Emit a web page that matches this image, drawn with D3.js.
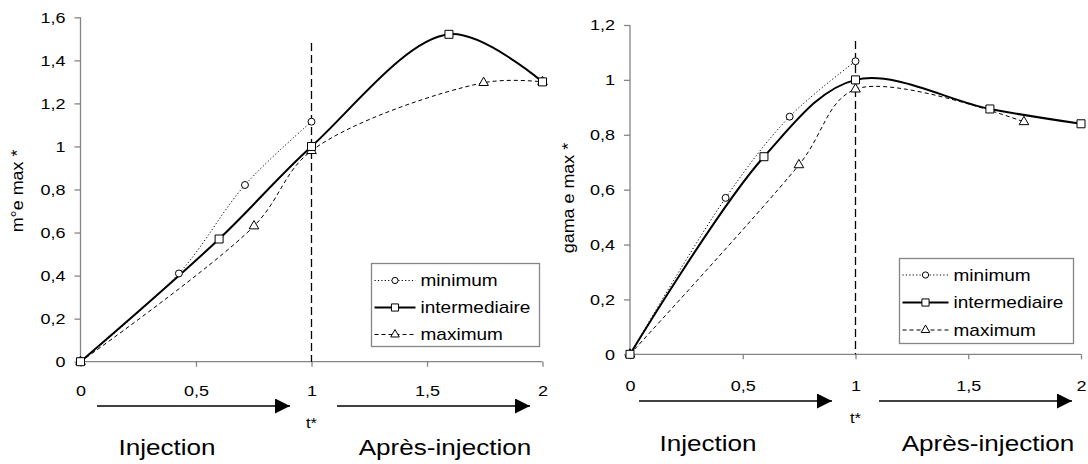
<!DOCTYPE html>
<html><head><meta charset="utf-8">
<script src="https://cdn.jsdelivr.net/npm/d3@7"></script>
<style>
html,body{margin:0;padding:0;background:#fff;}
svg{display:block;font-family:"Liberation Sans",Arial,sans-serif;}
</style></head>
<body>
<svg id="c" width="1088" height="464"></svg>
<script>
// ---- data ----
const seriesNames = ["minimum", "intermediaire", "maximum"];
const xTicks = [0, 0.5, 1, 1.5, 2];
const yTicksLeft = [0, 0.2, 0.4, 0.6, 0.8, 1, 1.2, 1.4, 1.6];
const yTicksRight = [0, 0.2, 0.4, 0.6, 0.8, 1, 1.2];

// left chart (m°e max *)
const tMinL = [0, 0.426, 0.712, 1];
const yMinL = [0, 0.41, 0.821, 1.115];
const tIntL = [0, 0.6, 1, 1.595, 2];
const yIntL = [0, 0.57, 1, 1.521, 1.30];
const tMaxL = [0, 0.751, 1, 1.745, 2];
const yMaxL = [0, 0.63, 0.98, 1.296, 1.30];

// right chart (gama e max *)
const tMinR = [0, 0.424, 0.708, 1];
const yMinR = [0, 0.57, 0.866, 1.068];
const tIntR = [0, 0.594, 1, 1.596, 2];
const yIntR = [0, 0.72, 1.0, 0.894, 0.84];
const tMaxR = [0, 0.749, 1, 1.747];
const yMaxR = [0, 0.69, 0.966, 0.847];

const yLabels = ["m°e max *", "gama e max *"];
const phaseLabels = ["Injection", "Après-injection"];
const tLabel = "t*";

// ---- drawing ----
const loc = d3.formatLocale({decimal: ",", thousands: " ", grouping: [3], currency: ["", "€"]});
const fmt = loc.format("~g");
const svg = d3.select("#c");
const axisColor = "#858585";

svg.append("defs").append("marker")
  .attr("id", "arr").attr("viewBox", "0 0 10 10").attr("refX", 10).attr("refY", 5)
  .attr("markerWidth", 18).attr("markerHeight", 15).attr("markerUnits", "userSpaceOnUse")
  .attr("orient", "auto")
  .append("path").attr("d", "M0,0 L10,5 L0,10 Z").attr("fill", "#000");

const styles = {
  minimum: {dash: "1.2,2.2", width: 1, sym: d3.symbolCircle, size: 38},
  intermediaire: {dash: null, width: 2, sym: d3.symbolSquare, size: 64},
  maximum: {dash: "4,3", width: 1, sym: d3.symbolTriangle, size: 40}
};

function zip(t, v) { return t.map((d, i) => ({x: d, y: v[i]})); }

// text with horizontal stretch (the reference glyphs are wider than Arial)
function addText(g, x, y, str, size, sx, anchor, rot) {
  return g.append("text")
    .attr("transform", `translate(${x},${y})` + (rot ? ` rotate(${rot})` : "") + ` scale(${sx},1)`)
    .attr("text-anchor", anchor || "middle").attr("dominant-baseline", "central")
    .attr("font-size", size).attr("fill", "#000").text(str);
}

function drawChart(cfg) {
  const g = svg.append("g");
  const x = d3.scaleLinear().domain([0, 2]).range([cfg.x0, cfg.x1]);
  const y = d3.scaleLinear().domain([0, d3.max(cfg.yTicks)]).range([cfg.y0, cfg.y1]);

  // axes
  const yAxis = g.append("g").attr("transform", `translate(${cfg.x0},0)`)
    .call(d3.axisLeft(y).tickValues(cfg.yTicks).tickFormat(fmt).tickSize(6));
  const xAxis = g.append("g").attr("transform", `translate(0,${cfg.y0})`)
    .call(d3.axisBottom(x).tickValues(xTicks).tickFormat(fmt).tickSize(5));
  [yAxis, xAxis].forEach(a => {
    a.select(".domain").attr("stroke", axisColor).attr("stroke-width", 1.3);
    a.selectAll(".tick line").attr("stroke", axisColor).attr("stroke-width", 1.3);
    a.selectAll(".tick text").attr("fill", "#000").attr("font-size", 15)
      .attr("font-family", "Liberation Sans, Arial, sans-serif")
      .attr("dy", null).attr("x", null).attr("y", null)
      .attr("dominant-baseline", "central");
  });
  yAxis.selectAll(".tick text").attr("text-anchor", "end")
    .attr("transform", `translate(-15,0) scale(1.2,1)`);
  xAxis.selectAll(".tick text").attr("text-anchor", "middle")
    .attr("transform", `translate(0,${cfg.xLabY}) scale(1.2,1)`);
  yAxis.select(".domain").attr("d", `M0,${cfg.y0}V${cfg.y1}`);
  xAxis.select(".domain").attr("d", `M${cfg.x0},0H${cfg.x1}`);

  // vertical dashed line at t*=1
  g.append("line").attr("x1", x(1)).attr("x2", x(1)).attr("y1", cfg.vTop).attr("y2", cfg.y0)
    .attr("stroke", "#000").attr("stroke-width", 1.3).attr("stroke-dasharray", "8,4");

  // series (maximum first, intermediaire on top)
  const order = ["maximum", "minimum", "intermediaire"];
  const line = d3.line().x(d => x(d.x)).y(d => y(d.y)).curve(d3.curveCatmullRom.alpha(0.5));
  order.forEach(name => {
    const st = styles[name];
    g.append("path").datum(cfg.data[name]).attr("d", line).attr("fill", "none")
      .attr("stroke", "#000").attr("stroke-width", st.width)
      .attr("stroke-dasharray", st.dash);
  });
  order.forEach(name => {
    const st = styles[name];
    g.selectAll(null).data(cfg.data[name]).enter().append("path")
      .attr("d", d3.symbol().type(st.sym).size(st.size))
      .attr("transform", d => `translate(${x(d.x)},${y(d.y)})`)
      .attr("fill", "#fff").attr("stroke", "#000").attr("stroke-width", 1);
  });

  // y label
  addText(g, cfg.ylx, cfg.yly, cfg.ylabel, 16, 1.12, "middle", -90);

  // legend
  const L = cfg.legend;
  g.append("rect").attr("x", L.x).attr("y", L.y).attr("width", L.w).attr("height", L.h)
    .attr("fill", "#fff").attr("stroke", axisColor).attr("stroke-width", 1.3);
  seriesNames.forEach((name, i) => {
    const st = styles[name];
    const ry = L.y + L.r0 + i * L.dy;
    g.append("line").attr("x1", L.x + 3).attr("x2", L.x + L.lineW).attr("y1", ry).attr("y2", ry)
      .attr("stroke", "#000").attr("stroke-width", st.width).attr("stroke-dasharray", st.dash);
    g.append("path").attr("d", d3.symbol().type(st.sym).size(st.size * 0.8))
      .attr("transform", `translate(${L.x + 3 + (L.lineW - 3) / 2},${ry})`)
      .attr("fill", "#fff").attr("stroke", "#000");
    addText(g, L.x + L.lineW + 5, ry, name, 17, 1.12, "start");
  });

  // arrows
  const A = cfg.arrows;
  [[A.a1, A.a2], [A.b1, A.b2]].forEach(([s, e]) => {
    g.append("line").attr("x1", s).attr("x2", e).attr("y1", A.y).attr("y2", A.y)
      .attr("stroke", "#000").attr("stroke-width", 1.5).attr("marker-end", "url(#arr)");
  });
  addText(g, x(1), A.ty, tLabel, 15, 1.1, "middle");
  addText(g, A.p1, A.py, phaseLabels[0], 22.5, 1.16, "middle");
  addText(g, A.p2, A.py, phaseLabels[1], 22.5, 1.16, "middle");
}

drawChart({
  x0: 80.5, x1: 542.5, y0: 361.7, y1: 17.3, xLabY: 29.5, vTop: 43,
  yTicks: yTicksLeft, ylabel: yLabels[0], ylx: 18, yly: 191,
  data: {minimum: zip(tMinL, yMinL), intermediaire: zip(tIntL, yIntL), maximum: zip(tMaxL, yMaxL)},
  legend: {x: 371.5, y: 263.5, w: 168, h: 83, r0: 17, dy: 27, lineW: 44},
  arrows: {y: 406, a1: 97, a2: 290, b1: 337, b2: 530, ty: 423, p1: 167, p2: 445, py: 447}
});
drawChart({
  x0: 630, x1: 1081, y0: 354.3, y1: 25, xLabY: 31.5, vTop: 41,
  yTicks: yTicksRight, ylabel: yLabels[1], ylx: 569, yly: 198,
  data: {minimum: zip(tMinR, yMinR), intermediaire: zip(tIntR, yIntR), maximum: zip(tMaxR, yMaxR)},
  legend: {x: 899.5, y: 258.5, w: 174, h: 85, r0: 16.5, dy: 27.5, lineW: 49},
  arrows: {y: 401, a1: 639, a2: 832, b1: 879, b2: 1072, ty: 418, p1: 708, p2: 988, py: 443}
});
</script>
</body></html>
